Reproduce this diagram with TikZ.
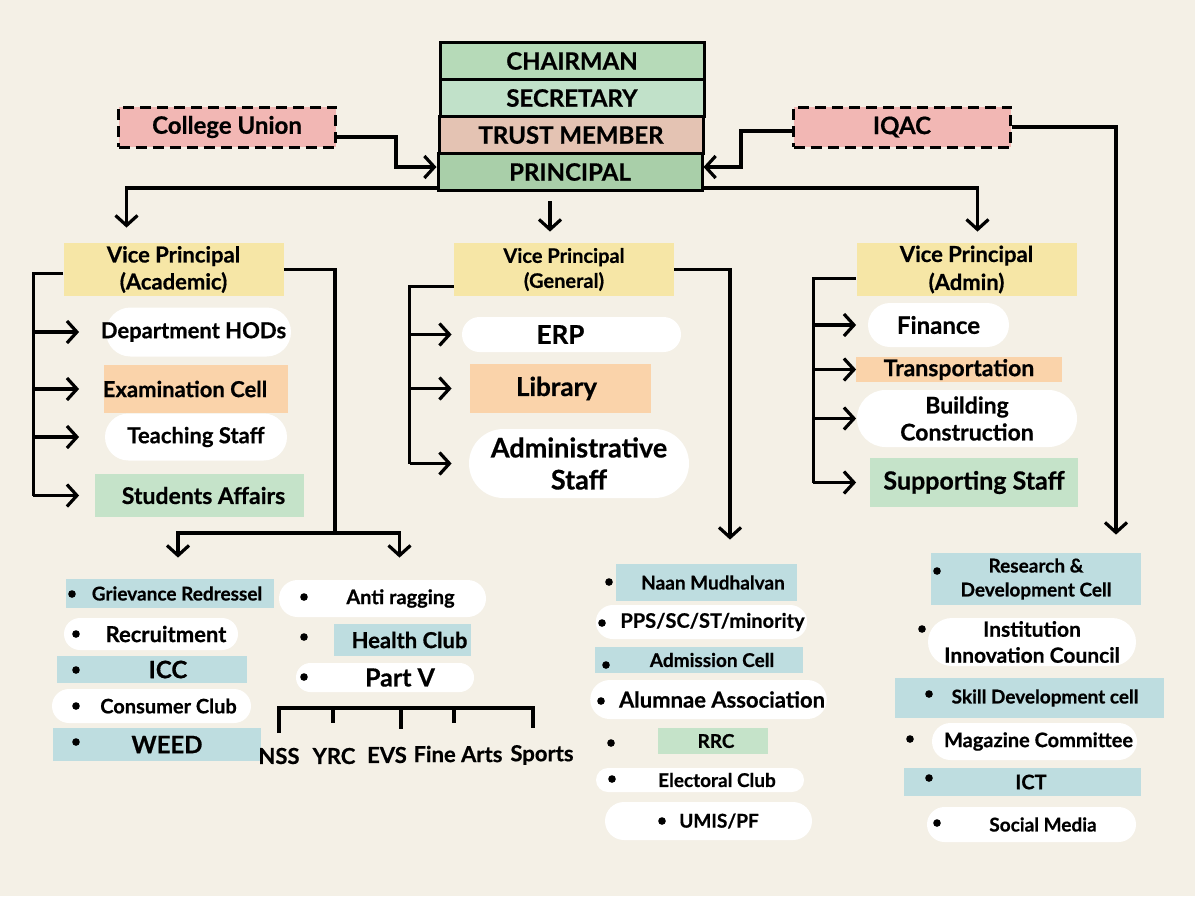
\documentclass[tikz,border=0pt]{standalone}
\usepackage{fontspec}
\setmainfont{Lato}[BoldFeatures={FakeBold=0.6}]
\usetikzlibrary{arrows.meta, shapes.misc}
\definecolor{fond}{HTML}{F4F0E6}
\definecolor{vertf}{HTML}{B6DAB8}
\definecolor{vertm}{HTML}{C1E1C9}
\definecolor{saumon}{HTML}{E4C3B3}
\definecolor{vertp}{HTML}{A9CFA9}
\definecolor{rose}{HTML}{F2B7B4}
\definecolor{jaune}{HTML}{F6E6A6}
\definecolor{orangec}{HTML}{FAD3AA}
\definecolor{vertc}{HTML}{C5E3C9}
\definecolor{bleuc}{HTML}{BEDDE0}

\begin{document}
\begin{tikzpicture}[
  x=0.5pt, y=-0.5pt,
  tx/.style 2 args={font=\fontsize{#1}{#2}\selectfont\bfseries},
  % décale le texte vers la droite dans sa boîte (la moitié de la valeur)
  decal/.style={execute at begin node={\hspace*{#1}}},
  poste/.style={draw=black, line width=1.5pt, minimum width=132pt,
                minimum height=18.5pt, inner sep=0pt, tx={12}{14}},
  externe/.style={draw=black, line width=1.5pt, dash pattern=on 5.5pt off 3pt,
                  fill=rose, minimum width=108.5pt, minimum height=20pt,
                  inner sep=0pt, tx={12}{14}},
  vp/.style={fill=jaune, minimum width=110pt, minimum height=26.5pt,
             inner sep=0pt, align=center},
  capsule/.style={rounded rectangle, fill=white, inner sep=0pt},
  bande/.style={inner sep=0pt},
  puce/.style={circle, fill=black, inner sep=0pt, minimum size=3.8pt},
  trait/.style={line width=1.6pt},
  fl/.style={trait, -{Straight Barb[length=5pt, width=11pt]}},
]
\fill[fond] (0,0) rectangle (1195,896);
% ---- direction
\node[poste, fill=vertf] (chairman) at (572,61) {CHAIRMAN};
\node[poste, fill=vertm] (secretary) at (572,98) {SECRETARY};
\node[poste, fill=saumon] (trust) at (571,135) {TRUST MEMBER};
\node[poste, fill=vertp] (principal) at (570,172) {PRINCIPAL};
\node[externe] (union) at (227,127) {College Union};
\node[externe] (iqac) at (902,127) {IQAC};
\draw[fl] ([yshift=-5pt]union.east) -- ++(59,0) |- ([yshift=2.5pt]principal.west);
\draw[fl] ([yshift=-2pt]iqac.west) -- ++(-51,0) |- ([yshift=2.5pt]principal.east);
% ---- les trois vice-principaux
\node[vp, tx={11}{13.5}] (vpa) at (173.5,269.5) {Vice Principal\\(Academic)};
\node[vp, tx={10}{12.5}] (vpg) at (564,269.5) {Vice Principal\\(General)};
\node[vp, tx={11}{14}] (vpd) at (966.5,269.5) {Vice Principal\\(Admin)};
\draw[fl, shorten >=7.5pt] ([yshift=-8pt]principal.west) -| ([xshift=-23.5pt]vpa.north);
\draw[fl, shorten <=4.5pt, shorten >=5.5pt] ([xshift=-10pt]principal.south)
  -- ([xshift=-10pt]principal.south |- vpg.north);
\draw[fl, shorten >=5.5pt] ([yshift=-8pt]principal.east) -| ([xshift=5.5pt]vpd.north);
% ---- branche académique
\node[capsule, minimum width=92.5pt, minimum height=24.5pt, tx={11}{13}, decal=-5pt] (hods) at (198.5,332) {Department HODs};
\node[bande, fill=orangec, minimum width=92pt, minimum height=24pt, tx={11}{13}, decal=-11pt] (exam) at (196,389) {Examination Cell};
\node[capsule, minimum width=91pt, minimum height=23.5pt, tx={11}{13}] (teach) at (196,437) {Teaching Staff};
\node[bande, fill=vertc, minimum width=104.5pt, minimum height=21.5pt, tx={11.5}{14}, decal=4pt] (stud) at (199.5,495.5) {Students Affairs};
\draw[trait] ([yshift=-2pt]vpa.west) -- ++(-30,0) coordinate (ga) -- (ga |- stud);
\draw[fl] (ga |- hods) -- ++(46,0);
\draw[fl] (ga |- exam) -- ++(46,0);
\draw[fl] (ga |- teach) -- ++(46,0);
\draw[fl] (ga |- stud) -- ++(46,0);
% ---- branche générale
\node[capsule, minimum width=109.5pt, minimum height=17.5pt, tx={13}{15}, decal=-11pt] (erp) at (571.5,334.5) {ERP};
\node[bande, fill=orangec, minimum width=90.5pt, minimum height=24.5pt, tx={13}{15}, decal=-4pt] (lib) at (560.5,388.5) {Library};
\node[capsule, minimum width=110pt, minimum height=34.5pt, tx={13.5}{16}, align=center] (adm) at (579,463.5) {Administrative\\Staff};
\draw[trait] ([yshift=-8.5pt]vpg.west) -- ++(-44,0) coordinate (gg) -- (gg |- adm);
\draw[fl] (gg |- erp) -- ++(42,0);
\draw[fl] (gg |- lib) -- ++(42,0);
\draw[fl] (gg |- adm) -- ++(42,0);
% ---- branche administrative
\node[capsule, minimum width=70.5pt, minimum height=22pt, tx={12}{14}] (fin) at (938.5,325) {Finance};
\node[bande, fill=orangec, minimum width=103pt, minimum height=12.5pt, tx={11.5}{13}] (trans) at (959,369.5) {Transportation};
\node[capsule, minimum width=110pt, minimum height=28.5pt, tx={11.5}{13.5}, align=center] (bldg) at (967,418.5) {Building\\Construction};
\node[bande, fill=vertc, minimum width=104pt, minimum height=24.5pt, tx={12.5}{15}] (supp) at (974,482.5) {Supporting Staff};
\draw[trait] ([yshift=-4.5pt]vpd.west) -- ++(-43,0) coordinate (gd) -- (gd |- supp);
\draw[fl] (gd |- fin) -- ++(43,0);
\draw[fl] (gd |- trans) -- ++(43,0);
\draw[fl] (gd |- bldg) -- ++(43,0);
\draw[fl] (gd |- supp) -- ++(43,0);
% ---- comités sous le vice-principal académique
\node[bande, fill=bleuc, minimum width=104pt, minimum height=14.5pt, tx={9.5}{11}, decal=7pt] (griev) at (170,593.5) {Grievance Redressel};
\node[puce] (pu-griev) at (72,594) {};
\node[capsule, minimum width=87pt, minimum height=16pt, tx={11}{13}, decal=15pt] (recru) at (151,634) {Recruitment};
\node[puce] (pu-recru) at (76,634) {};
\node[bande, fill=bleuc, minimum width=95pt, minimum height=13.5pt, tx={12}{14}, decal=16pt] (icc) at (152,669.5) {ICC};
\node[puce] (pu-icc) at (76,670) {};
\node[capsule, minimum width=99.5pt, minimum height=17pt, tx={10}{12}, decal=17pt] (consu) at (151.5,706) {Consumer Club};
\node[puce] (pu-consu) at (76,706) {};
\node[bande, fill=bleuc, minimum width=104pt, minimum height=16.5pt, tx={12}{14}, decal=10pt] (weed) at (157,744.5) {WEED};
\node[puce] (pu-weed) at (76,742) {};
\node[capsule, minimum width=103.5pt, minimum height=18.5pt, tx={10}{12}, decal=18pt] (anti) at (382.5,598.5) {Anti ragging};
\node[puce] (pu-anti) at (304,597) {};
\node[bande, fill=bleuc, minimum width=68.5pt, minimum height=16pt, tx={11}{13}, decal=7pt] (health) at (402.5,640) {Health Club};
\node[puce] (pu-health) at (304,637) {};
\node[capsule, minimum width=89pt, minimum height=14.5pt, tx={12.5}{15}, decal=15pt] (partv) at (385,677.5) {Part V};
\node[puce] (pu-partv) at (304,677) {};
\coordinate (ja) at (335,533);
\draw[trait] (vpa.east) -| (ja);
\draw[fl, shorten >=10.5pt] (ja) -| ([xshift=4pt]griev.north);
\draw[fl, shorten >=11pt] (ja) -| ([xshift=8.5pt]anti.north);
% ---- les cinq activités de la partie V
\draw[trait] (279,733) -- (279,708) -- (533,708) -- (533,728);
\draw[trait] (333,708) -- (333,723);
\draw[trait] (401,708) -- (401,729);
\draw[trait] (454,708) -- (454,723);
\node[tx={11}{13}] (nss) at (279,756) {NSS};
\node[tx={11}{13}] (yrc) at (334,756) {YRC};
\node[tx={11}{13}] (evs) at (387,755) {EVS};
\node[tx={11}{13}] (fine) at (458,754) {Fine Arts};
\node[tx={11}{13}] (sports) at (542,755) {Sports};
% ---- comités sous le vice-principal général
\node[bande, fill=bleuc, minimum width=90.5pt, minimum height=18.5pt, tx={9.5}{11}, decal=6.5pt] (naan) at (706.5,582.5) {Naan Mudhalvan};
\node[puce] (pu-naan) at (609,582) {};
\node[capsule, minimum width=104.5pt, minimum height=17pt, tx={10}{12}, decal=11pt] (pps) at (701.5,622) {PPS/SC/ST/minority};
\node[puce] (pu-pps) at (602,623) {};
\node[bande, fill=bleuc, minimum width=104pt, minimum height=13pt, tx={9.5}{11}, decal=13pt] (admis) at (699,660) {Admission Cell};
\node[puce] (pu-admis) at (606,665) {};
\node[capsule, minimum width=112.5pt, minimum height=19.5pt, tx={11}{13}, decal=13.5pt] (alum) at (708.5,699.5) {Alumnae Association};
\node[puce] (pu-alum) at (601,701) {};
\node[bande, fill=vertc, minimum width=55pt, minimum height=13pt, tx={9.5}{11}, decal=3pt] (rrc) at (713,741) {RRC};
\node[puce] (pu-rrc) at (611,743) {};
\node[capsule, minimum width=104pt, minimum height=12pt, tx={9.5}{11}, decal=17pt] (elect) at (700,780) {Electoral Club};
\node[puce] (pu-elect) at (612,779) {};
\node[capsule, minimum width=103.5pt, minimum height=19pt, tx={9.5}{11}, decal=10.5pt] (umis) at (708.5,821) {UMIS/PF};
\node[puce] (pu-umis) at (662,821) {};
\draw[fl, shorten >=12pt] (vpg.east) -| ([xshift=11.75pt]naan.north);
% ---- comités de la cellule qualité
\node[bande, fill=bleuc, minimum width=105pt, minimum height=26pt, tx={9.5}{12}, align=center] (resear) at (1036,579) {Research \&\\Development Cell};
\node[puce] (pu-resear) at (937,571) {};
\node[capsule, minimum width=104pt, minimum height=24pt, tx={10.5}{13}, align=center] (innov) at (1032,642) {Institution\\Innovation Council};
\node[puce] (pu-innov) at (922,629) {};
\node[bande, fill=bleuc, minimum width=134.5pt, minimum height=20pt, tx={9.5}{11}, decal=15.5pt] (skill) at (1029.5,698) {Skill Development cell};
\node[puce] (pu-skill) at (929,694) {};
\node[capsule, minimum width=102.5pt, minimum height=18.5pt, tx={10}{12}, decal=4pt] (maga) at (1034.5,741.5) {Magazine Committee};
\node[puce] (pu-maga) at (910,739) {};
\node[bande, fill=bleuc, minimum width=118.5pt, minimum height=14pt, tx={10}{12}, decal=8.5pt] (ict) at (1022.5,782) {ICT};
\node[puce] (pu-ict) at (929,778) {};
\node[capsule, minimum width=104.5pt, minimum height=17.5pt, tx={9.5}{11}, decal=11.5pt] (social) at (1031.5,824.5) {Social Media};
\node[puce] (pu-social) at (937,823) {};
\draw[fl, shorten >=9pt] (iqac.east) -| ([xshift=40pt]resear.north);
\end{tikzpicture}
\end{document}
